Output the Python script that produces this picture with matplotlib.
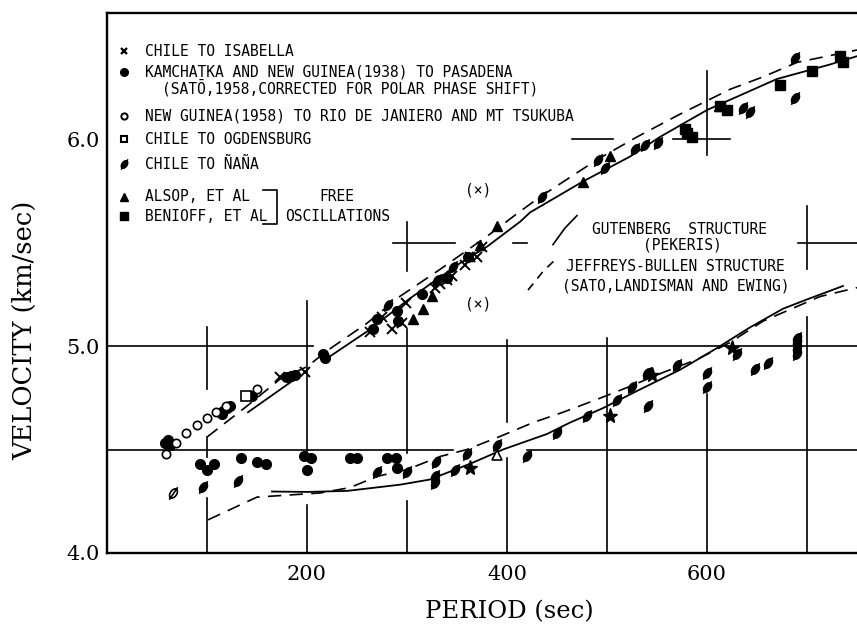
import numpy as np
import matplotlib.pyplot as plt
from matplotlib.path import Path

plt.rc('font', family='DejaVu Sans')

# --- theoretical curves: Gutenberg (solid) and Jeffreys-Bullen (dashed) ---
gut_up_p = [141, 188, np.nan, 223, 260, 303, 353, 380, 413, 423, 476, 523, 553, 600, 670, 723, 750]
gut_up_v = [4.68, 4.84, np.nan, 4.95, 5.07, 5.23, 5.40, 5.48, 5.60, 5.645, 5.795, 5.915, 6.01, 6.14, 6.29, 6.36, 6.40]
jb_up_p = [100, 140, 173, 200, 221, 260, 293, 333, 380, 413, 433, 490, 530, 573, 623, 656, 690, 750]
jb_up_v = [4.56, 4.71, 4.84, 4.90, 4.98, 5.11, 5.24, 5.37, 5.53, 5.65, 5.72, 5.90, 6.01, 6.12, 6.24, 6.30, 6.37, 6.43]
gut_lo_p = [165, 200, 240, 293, 323, 366, 396, 440, 463, 496, 533, 573, 610, 643, 676, 700, 736]
gut_lo_v = [4.297, 4.295, 4.30, 4.33, 4.355, 4.437, 4.50, 4.575, 4.63, 4.70, 4.79, 4.885, 4.99, 5.09, 5.18, 5.225, 5.29]
jb_lo_p = [101, 150, 213, 243, 270, 300, 333, 360, 393, 426, 456, 490, 523, 556, 590, 623, 656, 713, 750]
jb_lo_v = [4.16, 4.27, 4.29, 4.316, 4.37, 4.403, 4.466, 4.50, 4.563, 4.63, 4.68, 4.742, 4.805, 4.872, 4.935, 5.017, 5.12, 5.239, 5.282]

# --- observations ---
isabella_p = [173, 198, 263, 275, 285, 295, 299, 328, 333, 340, 345, 358, 363, 370, 375]
isabella_v = [4.85, 4.875, 5.07, 5.14, 5.08, 5.11, 5.21, 5.28, 5.30, 5.32, 5.34, 5.39, 5.43, 5.43, 5.48]
pasadena_p = [58, 61, 63, 115, 116, 120, 123, 145, 180, 184, 188, 216, 218, 266, 270, 290, 291, 315, 340, 361,
              93, 100, 107, 134, 150, 159, 197, 204, 200, 243, 250, 280, 289, 290]
pasadena_v = [4.53, 4.545, 4.52, 4.67, 4.685, 4.70, 4.71, 4.76, 4.85, 4.855, 4.86, 4.96, 4.94, 5.08, 5.13, 5.17, 5.12, 5.25, 5.33, 5.43,
              4.43, 4.40, 4.43, 4.46, 4.44, 4.43, 4.47, 4.46, 4.40, 4.46, 4.46, 4.46, 4.46, 4.41]
rio_p = [59, 69, 79, 90, 100, 109, 119, 150]
rio_v = [4.48, 4.53, 4.58, 4.62, 4.65, 4.68, 4.71, 4.79]
ogden_p = [139]
ogden_v = [4.76]
nana_p = [281, 330, 346, 435, 491, 498, 528, 538, 551, 636, 643, 688, 688,
          96, 131, 270, 300, 329, 328, 328, 348, 360, 390, 420, 450, 480, 510, 525, 540, 541, 570,
          600, 600, 630, 648, 661, 690, 690, 690, 690]
nana_v = [5.20, 5.32, 5.38, 5.72, 5.90, 5.86, 5.95, 5.97, 5.98, 6.15, 6.13, 6.39, 6.20,
          4.32, 4.35, 4.39, 4.39, 4.44, 4.37, 4.34, 4.40, 4.48, 4.52, 4.47, 4.58, 4.66, 4.74, 4.80, 4.87, 4.71, 4.91,
          4.87, 4.80, 4.96, 4.89, 4.92, 4.96, 4.99, 5.02, 5.04]
nana_open_p = [66]
nana_open_v = [4.29]
alsop_p = [306, 316, 325, 373, 390, 476, 503, 612]
alsop_v = [5.13, 5.18, 5.24, 5.49, 5.58, 5.79, 5.92, 6.16]
alsop_open_p = [390]
alsop_open_v = [4.475]
benioff_p = [578, 580, 585, 613, 620, 673, 705, 733, 736]
benioff_v = [6.05, 6.03, 6.01, 6.16, 6.14, 6.26, 6.33, 6.40, 6.37]
star_p = [363, 503, 545, 625]
star_v = [4.41, 4.66, 4.86, 4.99]

# --- broken grid (period or velocity, start, end) ---
hgrid = [(4.5, 0, 346), (4.5, 420, 750), (5.0, 0, 206), (5.0, 250, 750),
         (5.5, 286, 348), (5.5, 406, 420), (5.5, 691, 750), (6.0, 465, 506), (6.0, 566, 623)]
vgrid = [(100, 4.79, 5.093), (100, 4.466, 4.558), (100, 4.0, 4.268),
         (200, 4.45, 5.215), (200, 4.0, 4.234),
         (300, 4.485, 5.08), (300, 5.36, 5.60), (300, 4.0, 4.25),
         (400, 4.635, 5.03), (400, 4.0, 4.46),
         (500, 4.0, 5.04),
         (600, 5.925, 6.33), (600, 4.0, 4.77),
         (700, 5.37, 5.675), (700, 4.0, 5.138)]

# tilted oval with a slash for the Chile - Nana readings
t = np.linspace(0, 2 * np.pi, 40)
a = np.deg2rad(-35)
ex, ey = 0.38 * np.cos(t), 0.62 * np.sin(t)
oval = np.c_[ex * np.cos(a) - ey * np.sin(a), ex * np.sin(a) + ey * np.cos(a)]
slash = np.array([[-0.5, -0.75], [0.5, 0.75]])
nana_mark = Path.make_compound_path(Path(oval, closed=True), Path(slash))

lettering = 'DejaVu Sans Mono'
fs = 10.5

fig = plt.figure(figsize=(8.57, 6.26), dpi=100)
ax = fig.add_axes([107 / 857, 73 / 626, 750 / 857, 540 / 626])
ax.set_xlim(0, 750)
ax.set_ylim(4.0, 4.0 + 540 / 207)

for v, p0, p1 in hgrid:
    ax.plot([p0, p1], [v, v], color='k', lw=1.2, zorder=1)
for p, v0, v1 in vgrid:
    ax.plot([p, p], [v0, v1], color='k', lw=1.2, zorder=1)

ax.plot(gut_up_p, gut_up_v, 'k-', lw=1.3)
ax.plot(gut_lo_p, gut_lo_v, 'k-', lw=1.3)
ax.plot(jb_up_p, jb_up_v, 'k--', lw=1.2, dashes=(8, 5))
ax.plot(jb_lo_p, jb_lo_v, 'k--', lw=1.2, dashes=(8, 5))

ax.plot(isabella_p, isabella_v, 'kx', ms=6.5, mew=1.4, ls='none', zorder=3)
ax.plot(pasadena_p, pasadena_v, 'ko', ms=7, ls='none', zorder=3)
ax.plot(rio_p, rio_v, 'o', mfc='white', mec='k', ms=6, mew=1.2, ls='none', zorder=3)
ax.plot(ogden_p, ogden_v, 's', mfc='white', mec='k', ms=7, mew=1.2, ls='none', zorder=3)
ax.plot(nana_p, nana_v, marker=nana_mark, color='k', ms=9, mew=1.2, ls='none', zorder=3)
ax.plot(nana_open_p, nana_open_v, marker=nana_mark, mfc='white', mec='k', ms=9, mew=1.2, ls='none', zorder=3)
ax.plot(alsop_p, alsop_v, 'k^', ms=7, ls='none', zorder=3)
ax.plot(alsop_open_p, alsop_open_v, '^', mfc='white', mec='k', ms=6.5, mew=1.2, ls='none', zorder=3)
ax.plot(benioff_p, benioff_v, 'ks', ms=7.5, ls='none', zorder=3)
ax.plot(star_p, star_v, 'k*', ms=11, ls='none', zorder=3)

# key
kx, tx = 17, 38
keys = [('x', 6.423, 'CHILE TO ISABELLA'),
        ('o', 6.326, 'KAMCHATKA AND NEW GUINEA(1938) TO PASADENA'),
        ('oo', 6.109, 'NEW GUINEA(1958) TO RIO DE JANIERO AND MT TSUKUBA'),
        ('so', 5.998, 'CHILE TO OGDENSBURG'),
        ('n', 5.877, 'CHILE TO ÑAÑA'),
        ('^', 5.722, 'ALSOP, ET AL'),
        ('s', 5.626, 'BENIOFF, ET AL')]
for m, v, label in keys:
    if m == 'x':
        ax.plot(kx, v, 'kx', ms=5, mew=1.6)
    elif m == 'o':
        ax.plot(kx, v, 'ko', ms=5.5)
    elif m == 'oo':
        ax.plot(kx, v, 'o', mfc='white', mec='k', ms=4.5, mew=1.4)
    elif m == 'so':
        ax.plot(kx, v, 's', mfc='white', mec='k', ms=5, mew=1.5)
    elif m == 'n':
        ax.plot(kx, v, marker=nana_mark, color='k', ms=7.5)
    elif m == '^':
        ax.plot(kx, v, 'k^', ms=6)
    else:
        ax.plot(kx, v, 'ks', ms=6)
    ax.text(tx, v, label, family=lettering, fontsize=fs, va='center', ha='left')
ax.text(55, 6.249, '(SATŌ,1958,CORRECTED FOR POLAR PHASE SHIFT)', family=lettering, fontsize=fs,
        va='center', ha='left')
ax.plot([156, 170, 170, 156], [5.756, 5.756, 5.587, 5.587], 'k-', lw=1.2)
ax.text(230, 5.722, 'FREE', family=lettering, fontsize=fs, va='center', ha='center')
ax.text(178, 5.626, 'OSCILLATIONS', family=lettering, fontsize=fs, va='center', ha='left')

ax.text(371, 5.756, '(×)', family=lettering, fontsize=fs, va='center', ha='center')
ax.text(371, 5.205, '(×)', family=lettering, fontsize=fs, va='center', ha='center')

# structure key
ax.plot([446, 458, 470], [5.49, 5.57, 5.63], 'k-', lw=1.2)
ax.plot([421, 436, 451], [5.27, 5.36, 5.43], 'k--', lw=1.2, dashes=(5, 4))
ax.text(573, 5.563, 'GUTENBERG  STRUCTURE', family=lettering, fontsize=fs, va='center', ha='center')
ax.text(575, 5.49, '(PEKERIS)', family=lettering, fontsize=fs, va='center', ha='center')
ax.text(568, 5.384, 'JEFFREYS-BULLEN STRUCTURE', family=lettering, fontsize=fs, va='center', ha='center')
ax.text(569, 5.292, '(SATO,LANDISMAN AND EWING)', family=lettering, fontsize=fs, va='center', ha='center')

ax.spines['right'].set_visible(False)
for s in ['left', 'top', 'bottom']:
    ax.spines[s].set_linewidth(1.7)
ax.set_xticks([200, 400, 600])
ax.set_xticklabels(['200', '400', '600'], family='DejaVu Serif', fontsize=15)
ax.set_yticks([4.0, 5.0, 6.0])
ax.set_yticklabels(['4.0', '5.0', '6.0'], family='DejaVu Serif', fontsize=15)
ax.tick_params(length=0)
ax.tick_params(axis='x', pad=9)
ax.tick_params(axis='y', pad=5)

fig.text(25 / 857, 1 - 330 / 626, 'VELOCITY (km/sec)', family='DejaVu Serif', fontsize=18.5,
         rotation=90, ha='center', va='center')
fig.text(509 / 857, 1 - 612 / 626, 'PERIOD (sec)', family='DejaVu Serif', fontsize=17.5,
         ha='center', va='center')

fig.savefig('out.png', dpi=100)
